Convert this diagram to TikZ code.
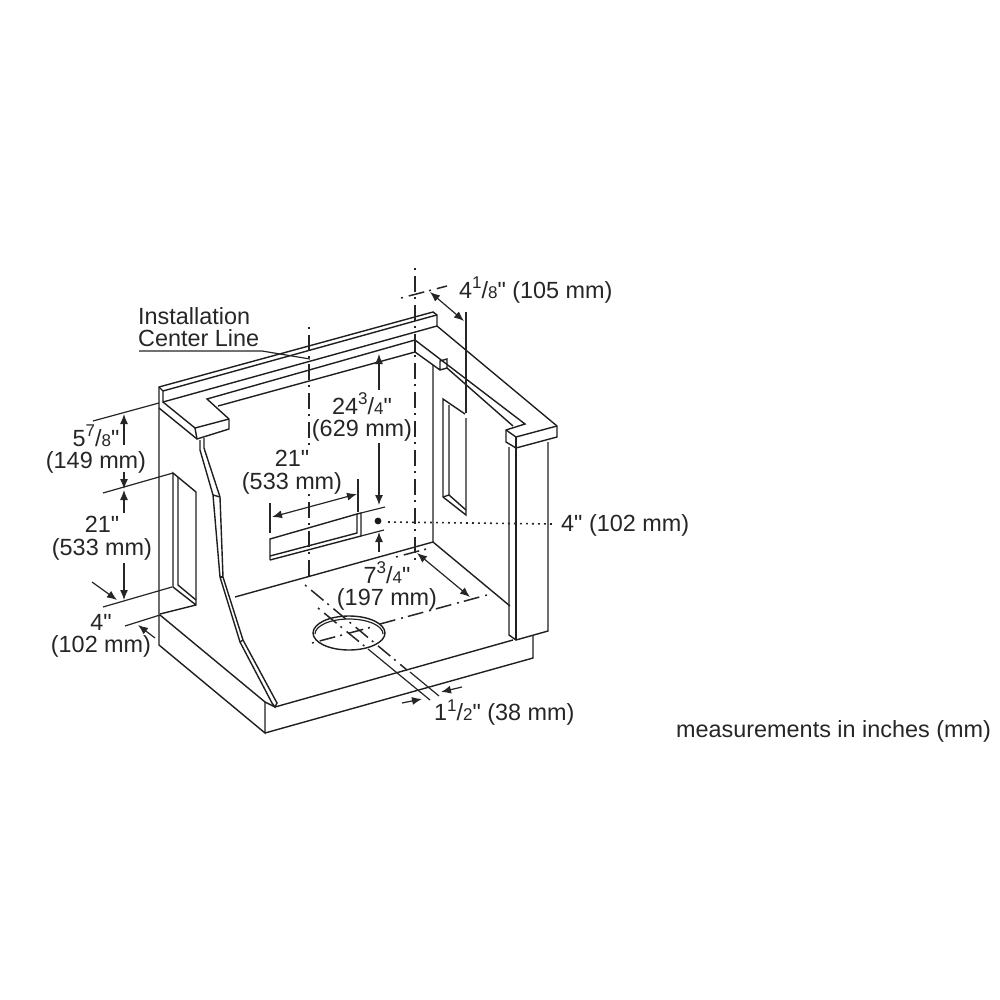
\documentclass[tikz,border=0pt]{standalone}
\usepackage{fontspec}
\newfontfamily\lsans{Liberation Sans}
\usetikzlibrary{arrows.meta}
\newcommand{\frc}[2]{\raisebox{0.42em}{\fontsize{17}{17}\selectfont #1}/{\fontsize{17}{17}\selectfont #2}}
\tikzset{
  ln/.style={line width=1.4pt,color=black!88,line join=miter},
  thin line/.style={line width=1.2pt,color=black!85},
  cdash/.style={line width=1.5pt,color=black!85,dash pattern=on 2pt off 6pt on 16pt off 5pt},
  dim/.style={line width=1.2pt,color=black!85,-{Latex[length=10pt,width=8pt]}},
  dimb/.style={line width=1.2pt,color=black!85,{Latex[length=10pt,width=8pt]}-{Latex[length=10pt,width=8pt]}},
  lab/.style={inner sep=0pt,align=center,font=\lsans\fontsize{23.4}{22.5}\selectfont,text=black!85}
}
\begin{document}
\begin{tikzpicture}[x=1pt,y=-1pt]
\useasboundingbox (0,0) rectangle (1000,1000);
\fill[white] (0,0) rectangle (1000,1000);
% back top
\draw[ln] (159,402) -- (159,387) -- (433,312) -- (437,315) -- (437,326) -- (557,426) -- (557,437) -- (516,448) -- (506,442) -- (506,430) -- (525,424) -- (415,340) -- (207,399) -- (229,419) -- (229,429) -- (197,439) -- (159,408);
\draw[ln] (163,391) -- (433,316) -- (437,315);
\draw[ln] (159,387) -- (163,391) -- (163,402) -- (437,326);
\draw[ln] (163,402) -- (195,428) -- (229,419);
\draw[ln] (195,428) -- (197,439);
\draw[ln] (506,430) -- (516,437) -- (557,426);
\draw[ln] (516,437) -- (516,448);
\draw[ln] (218,406) -- (415,352) -- (440,370) -- (447,368) -- (447,359) -- (440,361) -- (440,370);
\draw[ln] (447,368) -- (513,426);
\draw[ln] (415,340) -- (415,352);
% left wall
\draw[ln] (159,402) -- (159,645) -- (265,733) -- (265,702) -- (160,615);
\draw[ln] (265,733) -- (533,658) -- (533,635);
\draw[ln] (265,702) -- (275,707) -- (513,640);
\draw[ln] (160,614) -- (196,605) -- (196,492) -- (173,473) -- (173,587) -- (196,605);
\draw[ln] (178,477) -- (178,585) -- (196,600);
% hood
\draw[ln] (200,440) -- (200,450) -- (213,495) -- (220,577) -- (240,642) -- (272,703) -- (275,707) -- (277,703) -- (243,640) -- (223,577) -- (220,497) -- (204,448) -- (204,438);
\draw[ln] (213,495) -- (220,497);
\draw[ln] (220,577) -- (223,577);
\draw[ln] (240,642) -- (243,640);
% right wall and floor
\draw[ln] (433,365) -- (433,542) -- (510,606);
\draw[ln] (433,542) -- (235,597);
\draw[ln] (509,447) -- (509,635) -- (516,640) -- (548,631) -- (548,442);
\draw[ln] (516,448) -- (516,640);
\draw[ln] (466,418) -- (466,515) -- (443,497) -- (443,399) -- (465,414);
\draw[ln] (449,405) -- (449,495) -- (466,510);
\draw[ln] (443,497) -- (449,495);
% back cut-out
\draw[ln] (270,560) -- (270,539) -- (357,514) -- (361,513) -- (361,536) -- (270,560);
\draw[ln] (270,556) -- (357,533) -- (357,514);
% hole
\draw[ln] (349,633) ellipse [x radius=36pt,y radius=17pt];
\draw[thin line] (315,634) arc [start angle=180,end angle=360,x radius=34,y radius=15];
% center lines
\draw[cdash] (309,327) -- (309,447);
\draw[cdash] (309,494) -- (309,580);
\draw[cdash] (415,268) -- (415,560);
\draw[cdash] (401,298) -- (447,286);
\draw[cdash] (396,557) -- (430,548);
\draw[cdash] (312,643) -- (372,627);
\draw[cdash] (487,595) -- (380,624);
\draw[cdash] (305,585) -- (407,670);
\draw[cdash] (318,608) -- (368,649);
\draw[thin line] (368,649) -- (430,700);
\draw[thin line] (410,672) -- (439,696);
% extension lines
\draw[thin line] (93,421) -- (159,403);
\draw[thin line] (103,493) -- (173,473);
\draw[thin line] (103,607) -- (172,587);
\draw[thin line] (125,626) -- (160,615);
\draw[thin line] (466,312) -- (466,413);
\draw[thin line] (270,503) -- (270,533);
\draw[thin line] (358,479) -- (358,512);
\draw[thin line] (361,513) -- (385,507);
\draw[thin line] (361,536) -- (384,530);
% dimension arrows
\draw[dim] (124,445) -- (124,414);
\draw[dim] (124,472) -- (124,489);
\draw[dim] (124,513) -- (124,490);
\draw[dim] (124,563) -- (124,600);
\draw[dim] (92,582) -- (117,600);
\draw[dim] (155,638) -- (138,625);
\draw[dimb] (430,292) -- (464,321);
\draw[dim] (379,390) -- (379,354);
\draw[dim] (379,443) -- (379,505);
\draw[dim] (379,552) -- (379,532);
\draw[dimb] (272,517) -- (357,494);
\draw[dimb] (417,553) -- (470,597);
\draw[dim] (402,703) -- (422,699);
\draw[dim] (462,687) -- (441,692);
% leader
\draw[thin line] (139,351) -- (262,351) -- (310,359);
% dot
\fill[black!90] (378,521) circle (3.4pt);
\draw[line width=1.6pt,color=black!85,dash pattern=on 1.8pt off 4.2pt] (388,522) -- (553,524);
% labels
\node[lab,anchor=west,align=left] (t1) at (138,327) {Installation\\Center Line};
\node[lab] (t2) at (96,449) {5\frc{7}{8}"\\(149 mm)};
\node[lab] (t3) at (102,538) {21"\\(533 mm)};
\node[lab] (t4) at (101,636) {4"\\(102 mm)};
\node[lab] (t5) at (292,472) {21"\\(533 mm)};
\node[lab] (t6) at (362,417) {24\frc{3}{4}"\\(629 mm)};
\node[lab] (t7) at (387,586) {7\frc{3}{4}"\\(197 mm)};
\node[lab,anchor=west] (t8) at (459,290) {4\frc{1}{8}" (105 mm)};
\node[lab,anchor=west] (t9) at (561,525) {4" (102 mm)};
\node[lab,anchor=west] (t10) at (434,712.5) {1\frc{1}{2}" (38 mm)};
\node[lab,anchor=west] (t11) at (676,731) {measurements in inches (mm)};
\end{tikzpicture}
\end{document}
